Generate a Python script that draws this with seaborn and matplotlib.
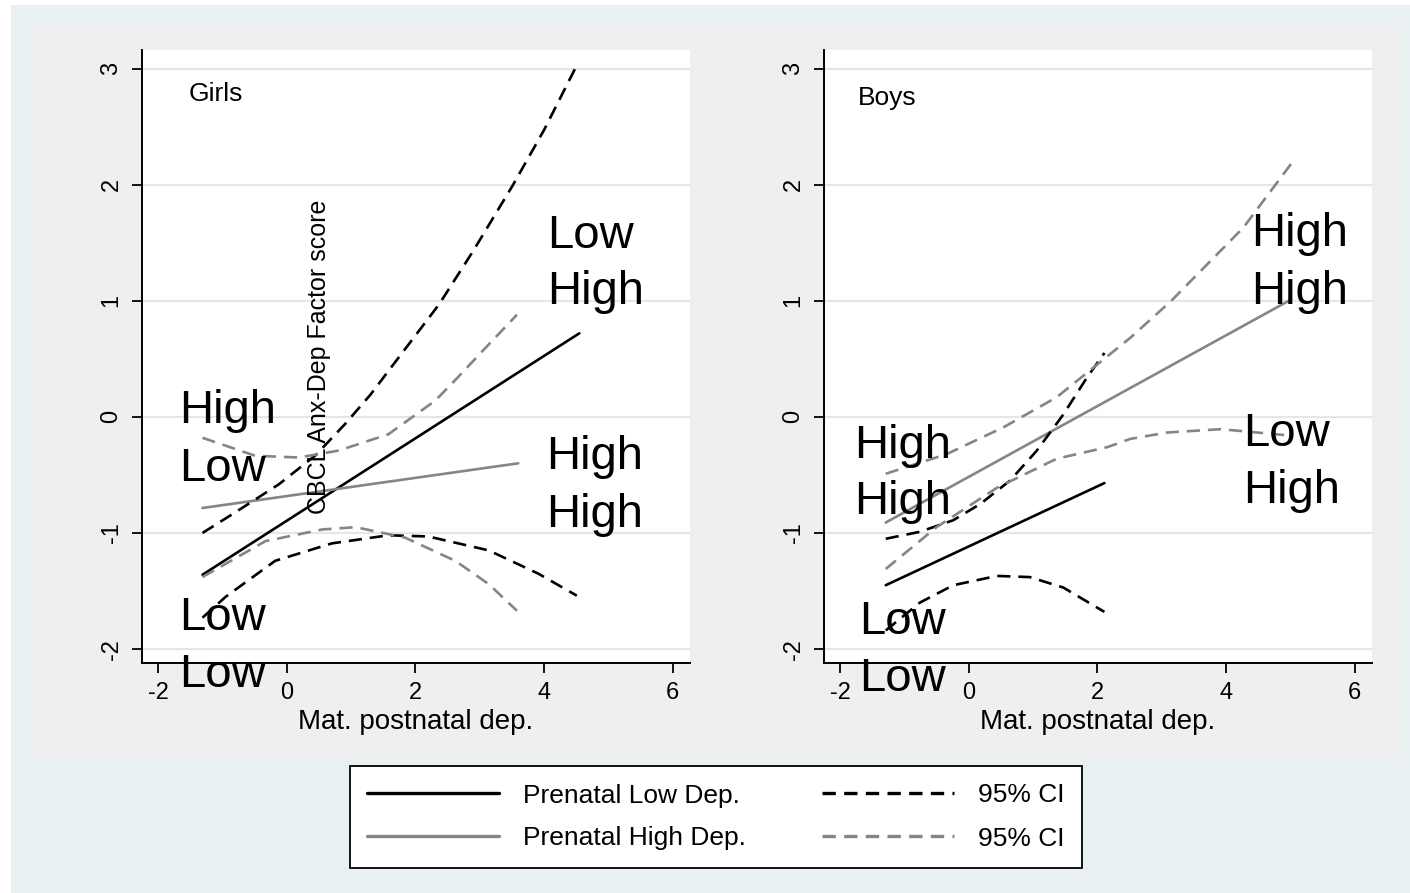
import matplotlib
matplotlib.use("Agg")
import matplotlib.pyplot as plt
from matplotlib.lines import Line2D
from matplotlib.patches import Rectangle
import seaborn as sns

# --- data (x = Mat. postnatal dep., y = factor score) ---
# Girls
girls_low_x = [-1.31, 4.55]
girls_low_y = [-1.36, 0.72]
girls_high_x = [-1.31, 3.60]
girls_high_y = [-0.785, -0.40]
girls_low_ci_up_x = [-1.31, -0.85, -0.12, 0.45, 0.91, 1.30, 2.37, 2.90, 3.51, 4.00, 4.53]
girls_low_ci_up_y = [-1.00, -0.84, -0.58, -0.33, -0.06, 0.19, 0.97, 1.43, 1.99, 2.47, 3.05]
girls_low_ci_lo_x = [-1.31, -0.95, -0.18, 0.70, 1.58, 2.20, 3.14, 3.91, 4.51]
girls_low_ci_lo_y = [-1.73, -1.55, -1.24, -1.09, -1.02, -1.03, -1.15, -1.35, -1.54]
girls_high_ci_up_x = [-1.31, -0.49, 0.19, 0.81, 1.58, 2.31, 2.66, 3.10, 3.58]
girls_high_ci_up_y = [-0.18, -0.335, -0.35, -0.29, -0.15, 0.14, 0.34, 0.60, 0.88]
girls_high_ci_lo_x = [-1.31, -0.33, 0.55, 1.07, 1.84, 2.62, 3.14, 3.58]
girls_high_ci_lo_y = [-1.38, -1.07, -0.97, -0.95, -1.04, -1.24, -1.44, -1.67]

# Boys
boys_low_x = [-1.29, 2.11]
boys_low_y = [-1.45, -0.57]
boys_high_x = [-1.29, 5.01]
boys_high_y = [-0.91, 1.01]
boys_low_ci_up_x = [-1.29, -0.76, -0.24, 0.18, 0.64, 1.06, 1.47, 1.84, 2.11]
boys_low_ci_up_y = [-1.05, -0.99, -0.89, -0.75, -0.55, -0.29, 0.02, 0.34, 0.55]
boys_low_ci_lo_x = [-1.29, -0.76, -0.24, 0.44, 0.95, 1.47, 2.11]
boys_low_ci_lo_y = [-1.84, -1.60, -1.45, -1.37, -1.38, -1.47, -1.68]
boys_high_ci_up_x = [-1.29, -0.34, 0.54, 1.37, 2.51, 3.15, 4.27, 5.04]
boys_high_ci_up_y = [-0.49, -0.32, -0.09, 0.17, 0.68, 1.00, 1.63, 2.20]
boys_high_ci_lo_x = [-1.29, -0.50, 0.44, 1.37, 2.16, 2.51, 3.08, 3.92, 4.98]
boys_high_ci_lo_y = [-1.31, -0.95, -0.61, -0.36, -0.26, -0.19, -0.135, -0.106, -0.16]

x_ticks = [-2, 0, 2, 4, 6]
y_ticks = [-2, -1, 0, 1, 2, 3]
x_label = "Mat. postnatal dep."
y_title = "CBCL Anx-Dep Factor score"
legend_labels = ["Prenatal Low Dep.", "Prenatal High Dep.", "95% CI", "95% CI"]

BLACK = "#000000"
GRAY = "#858585"
DASH = (0, (5, 3))
LW = 1.9


def draw_line(ax, xs, ys, color, dashed=False):
    sns.lineplot(x=xs, y=ys, ax=ax, color=color, linewidth=LW,
                 linestyle=DASH if dashed else "-", estimator=None,
                 sort=False, legend=False)


def style_axes(ax):
    ax.set_facecolor("white")
    ax.set_xlim(-2.25, 6.27)
    ax.set_ylim(-2.12, 3.16)
    ax.set_xticks(x_ticks)
    ax.set_yticks(y_ticks)
    ax.set_xticklabels([str(v) for v in x_ticks], fontsize=17)
    ax.set_yticklabels([str(v) for v in y_ticks], fontsize=17, rotation=90, va="center")
    ax.tick_params(axis="both", which="major", left=True, bottom=True,
                   length=7, width=1.3, color="black", labelcolor="black",
                   pad=7, direction="out")
    for side in ["top", "right"]:
        ax.spines[side].set_visible(False)
    for side in ["left", "bottom"]:
        ax.spines[side].set_color("black")
        ax.spines[side].set_linewidth(1.4)
    ax.grid(False)
    for v in y_ticks:
        ax.axhline(v, color="#e6e6e6", lw=1.6, zorder=0)
    ax.set_xlabel(x_label, fontsize=20, labelpad=3, color="black")
    ax.set_ylabel("")


def big_text(ax, x, y, s):
    ax.text(x, y, s, fontsize=34, color="black", ha="left", va="baseline",
            clip_on=False, zorder=5)


sns.set_theme(style="white")
plt.rcParams["font.family"] = ["Liberation Sans", "DejaVu Sans"]
plt.rcParams["text.color"] = "black"
plt.rcParams["axes.labelcolor"] = "black"
plt.rcParams["xtick.color"] = "black"
plt.rcParams["ytick.color"] = "black"

fig = plt.figure(figsize=(14.1, 8.93), dpi=100)
fig.patch.set_facecolor("white")
fig.patches.append(Rectangle((11 / 1410, 0), 1 - 11 / 1410, 1 - 5 / 893,
                             transform=fig.transFigure, facecolor="#e8f0f2",
                             edgecolor="none", zorder=-10))
fig.patches.append(Rectangle((33 / 1410, 136 / 893), 1366 / 1410, 732 / 893,
                             transform=fig.transFigure, facecolor="#efefef",
                             edgecolor="none", zorder=-9))

ax1 = fig.add_axes([142 / 1410, 230 / 893, 548 / 1410, 613 / 893])
ax2 = fig.add_axes([824 / 1410, 230 / 893, 548 / 1410, 613 / 893])

# Girls panel
draw_line(ax1, girls_low_x, girls_low_y, BLACK)
draw_line(ax1, girls_high_x, girls_high_y, GRAY)
draw_line(ax1, girls_low_ci_up_x, girls_low_ci_up_y, BLACK, dashed=True)
draw_line(ax1, girls_low_ci_lo_x, girls_low_ci_lo_y, BLACK, dashed=True)
draw_line(ax1, girls_high_ci_up_x, girls_high_ci_up_y, GRAY, dashed=True)
draw_line(ax1, girls_high_ci_lo_x, girls_high_ci_lo_y, GRAY, dashed=True)
style_axes(ax1)
ax1.text(-1.53, 2.72, "Girls", fontsize=19, ha="left", va="baseline")
ax1.text(0.5, 0.52, y_title, fontsize=18, rotation=90, ha="center", va="center")
big_text(ax1, -1.68, -0.05, "High")
big_text(ax1, -1.68, -0.55, "Low")
big_text(ax1, -1.68, -1.84, "Low")
big_text(ax1, -1.68, -2.33, "Low")
big_text(ax1, 4.05, 1.455, "Low")
big_text(ax1, 4.05, 0.97, "High")
big_text(ax1, 4.04, -0.45, "High")
big_text(ax1, 4.04, -0.95, "High")

# Boys panel
draw_line(ax2, boys_low_x, boys_low_y, BLACK)
draw_line(ax2, boys_high_x, boys_high_y, GRAY)
draw_line(ax2, boys_low_ci_up_x, boys_low_ci_up_y, BLACK, dashed=True)
draw_line(ax2, boys_low_ci_lo_x, boys_low_ci_lo_y, BLACK, dashed=True)
draw_line(ax2, boys_high_ci_up_x, boys_high_ci_up_y, GRAY, dashed=True)
draw_line(ax2, boys_high_ci_lo_x, boys_high_ci_lo_y, GRAY, dashed=True)
style_axes(ax2)
ax2.text(-1.72, 2.69, "Boys", fontsize=19, ha="left", va="baseline")
big_text(ax2, 4.39, 1.47, "High")
big_text(ax2, 4.39, 0.97, "High")
big_text(ax2, -1.78, -0.35, "High")
big_text(ax2, -1.78, -0.84, "High")
big_text(ax2, 4.27, -0.25, "Low")
big_text(ax2, 4.27, -0.74, "High")
big_text(ax2, -1.71, -1.87, "Low")
big_text(ax2, -1.71, -2.36, "Low")

# Legend
handles = [
    Line2D([], [], color=BLACK, lw=2.4),
    Line2D([], [], color=GRAY, lw=2.4),
    Line2D([], [], color=BLACK, lw=2.4, linestyle=(0, (4, 2.5))),
    Line2D([], [], color=GRAY, lw=2.4, linestyle=(0, (4, 2.5))),
]
leg = fig.legend(handles, legend_labels, ncol=2, loc="center",
                 bbox_to_anchor=(716 / 1410, 76 / 893), fontsize=19,
                 frameon=True, fancybox=False, handlelength=5.0,
                 handletextpad=0.9, columnspacing=2.9, labelspacing=0.72,
                 borderpad=0.65)
leg.get_frame().set_edgecolor("black")
leg.get_frame().set_linewidth(1.3)
leg.get_frame().set_facecolor("white")
leg.get_frame().set_alpha(1)
for t in leg.get_texts():
    t.set_color("black")

fig.savefig("out.png", dpi=100, facecolor=fig.get_facecolor())
